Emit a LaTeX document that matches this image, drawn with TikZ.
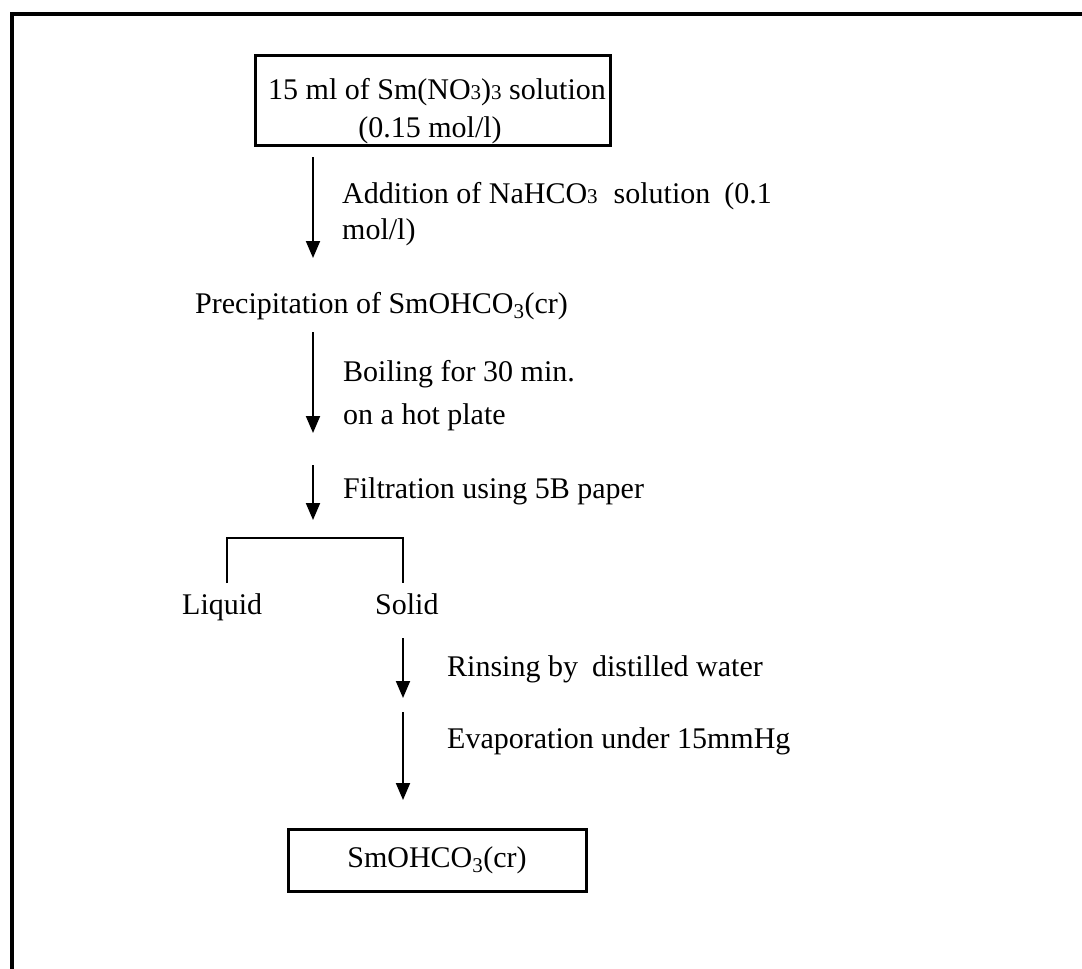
\documentclass[tikz,border=0pt]{standalone}
\usepackage{fontspec}
\setmainfont{Liberation Serif}
\usetikzlibrary{arrows.meta}
\newcommand\smdig[1]{{\fontsize{21}{21}\selectfont #1}}
\begin{document}
\begin{tikzpicture}[x=1pt,y=-1pt,
  txt/.style={anchor=west, inner sep=0pt, text height=20pt, text depth=7pt, font=\fontsize{30}{36}\selectfont},
  flow/.style={line width=2pt, -{Triangle[width=14pt,length=17pt]}},
  boxline/.style={draw, line width=3pt, inner sep=0pt}]
\useasboundingbox (0,0) rectangle (1082,969);
% outer frame (top and left only)
\draw[line width=3.5pt] (12,969) -- (12,14) -- (1082,14);
% source box
\node[boxline, minimum width=355pt, minimum height=90pt] (src) at (432.5,100) {};
\node[txt] (src1) at (268,93) {15 ml of Sm(NO\smdig{3})\smdig{3} solution};
\node[txt, anchor=center] (src2) at (430,131) {(0.15 mol/l)};
% step 1
\coordinate (a1s) at (313,157);
\coordinate (a1e) at (313,258);
\draw[flow] (a1s) -- (a1e);
\node[txt] (l1a) at (342,197) {Addition of NaHCO\smdig{3}\hspace{16pt}solution\hspace{14pt}(0.1};
\node[txt] (l1b) at (342,233) {mol/l)};
\node[txt] (prec) at (195,307) {Precipitation of SmOHCO\textsubscript{3}(cr)};
% step 2
\coordinate (a2s) at (313,332);
\coordinate (a2e) at (313,433);
\draw[flow] (a2s) -- (a2e);
\node[txt] (l2a) at (343,375) {Boiling for 30 min.};
\node[txt] (l2b) at (343,418) {on a hot plate};
% step 3
\coordinate (a3s) at (313,465);
\coordinate (a3e) at (313,520);
\draw[flow] (a3s) -- (a3e);
\node[txt] (l3) at (343,492) {Filtration using 5B paper};
% split
\node[txt] (liq) at (182,608) {Liquid};
\node[txt] (sol) at (375,608) {Solid};
\coordinate (bl) at (227,583);
\coordinate (br) at (403,583);
\draw[line width=2.5pt] (bl) -- (bl |- 0,538) -- (br |- 0,538) -- (br);
% step 4
\coordinate (a4s) at (403,638);
\coordinate (a4e) at (403,698);
\draw[flow] (a4s) -- (a4e);
\node[txt] (l4) at (447,670) {Rinsing by\hspace{14pt}distilled water};
% step 5
\coordinate (a5s) at (403,712);
\coordinate (a5e) at (403,800);
\draw[flow] (a5s) -- (a5e);
\node[txt] (l5) at (447,742) {Evaporation under 15mmHg};
% product box
\node[boxline, minimum width=298pt, minimum height=62pt, font=\fontsize{30}{36}\selectfont] (prod) at (437,860) {SmOHCO\textsubscript{3}(cr)};
\end{tikzpicture}
\end{document}
